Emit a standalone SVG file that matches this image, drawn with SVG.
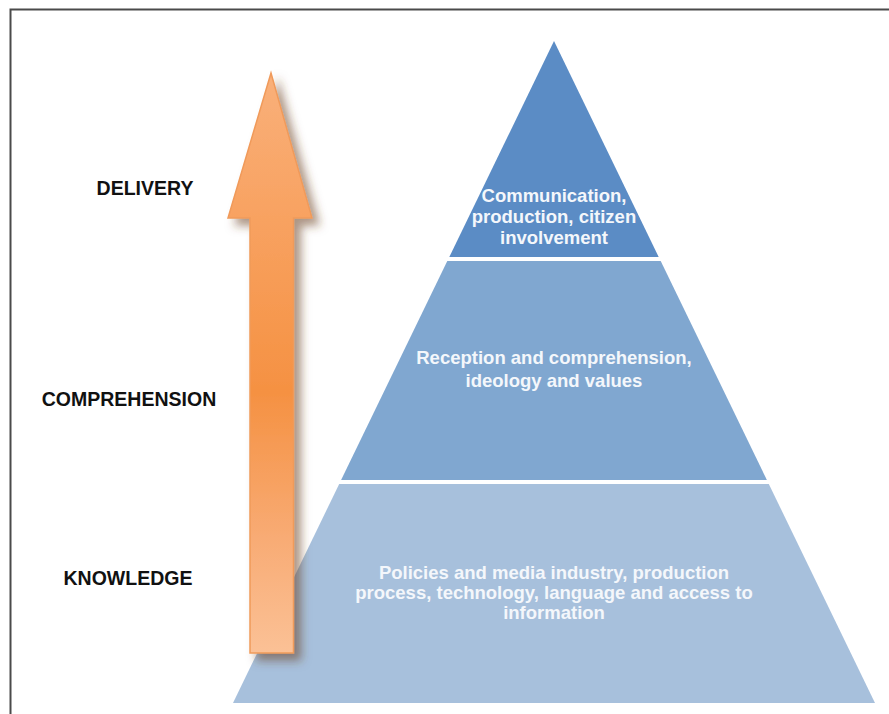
<svg xmlns="http://www.w3.org/2000/svg" width="889" height="714" viewBox="0 0 889 714">
  <style>
    .lbl { font-family: "Liberation Sans", Arial, sans-serif; font-weight: bold; font-size: 19.5px; fill: #111111; text-anchor: middle; }
    .tier { font-family: "Liberation Sans", Arial, sans-serif; font-weight: bold; font-size: 18.5px; fill: #f4f7fb; text-anchor: middle; }
  </style>
  <defs>
    <linearGradient id="arrowGrad" x1="0" y1="73" x2="0" y2="653" gradientUnits="userSpaceOnUse">
      <stop offset="0" stop-color="#f9b07a"/>
      <stop offset="0.25" stop-color="#f8a261"/>
      <stop offset="0.55" stop-color="#f59142"/>
      <stop offset="0.8" stop-color="#f8ab74"/>
      <stop offset="1" stop-color="#fbc196"/>
    </linearGradient>
    <filter id="shadow" x="-50%" y="-10%" width="200%" height="130%">
      <feDropShadow dx="7" dy="7" stdDeviation="5" flood-color="#6b3f20" flood-opacity="0.55"/>
    </filter>
  </defs>
  <rect width="889" height="714" fill="#ffffff"/>
  <path d="M10.5 714 V9.5 H889" fill="none" stroke="#4a4a4a" stroke-width="2"/>

  <g id="tier-delivery">
    <polygon points="554,41 658.7,257 449.3,257" fill="#5b8cc5"/>
    <text class="tier" x="554" y="202">Communication,</text>
    <text class="tier" x="554" y="223">production, citizen</text>
    <text class="tier" x="554" y="244">involvement</text>
  </g>
  <g id="tier-comprehension">
    <polygon points="447.3,261 660.7,261 766.9,480 341.1,480" fill="#80a7d0"/>
    <text class="tier" x="554" y="364">Reception and comprehension,</text>
    <text class="tier" x="554" y="387">ideology and values</text>
  </g>
  <g id="tier-knowledge">
    <polygon points="339.2,484 768.8,484 875,703 233,703" fill="#a7c0dc"/>
    <text class="tier" x="554" y="579">Policies and media industry, production</text>
    <text class="tier" x="554" y="599">process, technology, language and access to</text>
    <text class="tier" x="554" y="619">information</text>
  </g>

  <g id="labels">
    <text class="lbl" x="145" y="195">DELIVERY</text>
    <text class="lbl" x="129" y="406">COMPREHENSION</text>
    <text class="lbl" x="128" y="585">KNOWLEDGE</text>
  </g>

  <g id="connectors">
    <polygon points="271,73 312,218 293.5,218 293.5,653 250,653 250,218 228,218" fill="url(#arrowGrad)" stroke="#f09a5a" stroke-width="1.5" stroke-linejoin="miter" filter="url(#shadow)"/>
  </g>
</svg>
